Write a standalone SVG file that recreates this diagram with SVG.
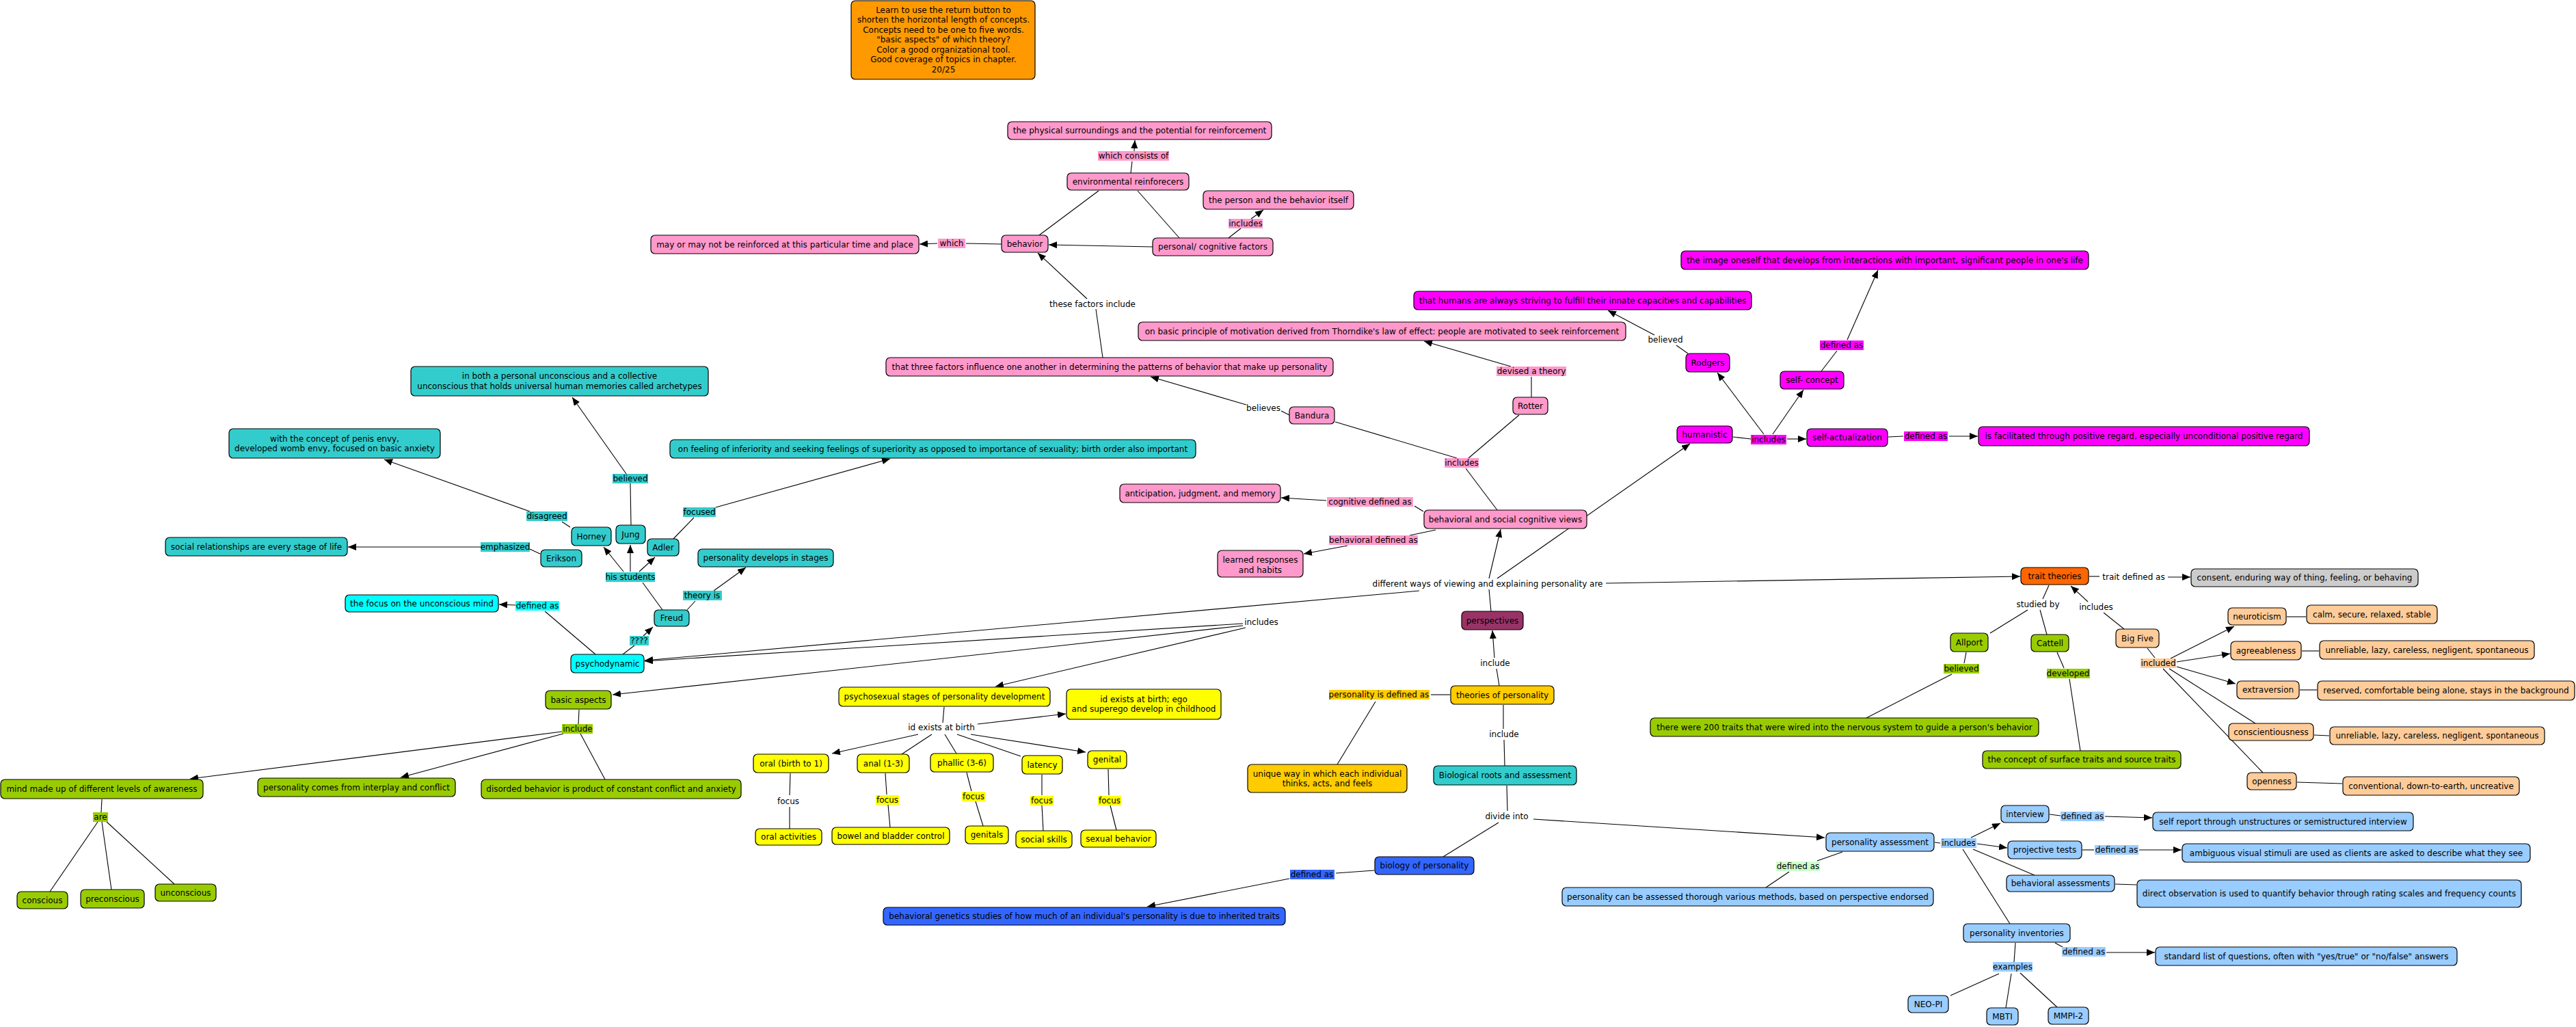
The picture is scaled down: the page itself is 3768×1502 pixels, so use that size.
<svg xmlns="http://www.w3.org/2000/svg" width="3768" height="1502" viewBox="0 0 3768 1502">
<style>
text{font-family:"DejaVu Sans","Liberation Sans",sans-serif;font-size:12px;fill:#000;text-anchor:middle}
.n rect{stroke:#000;stroke-width:1.2;rx:6px;ry:6px}
.lb rect{stroke:none}
#conn line{stroke:#000;stroke-width:1.1}
#conn line.a{marker-end:url(#ah)}
.pk rect{fill:#FF99CC}.mg rect{fill:#FF00FF}.tl rect{fill:#33CCCC}.cy rect{fill:#00FFFF}
.gr rect{fill:#99CC00}.ye rect{fill:#FFFF00}.gd rect{fill:#FFCC00}.og rect{fill:#FF9900}
.tr rect{fill:#FF6600}.gy rect{fill:#CCCCCC}.pc rect{fill:#FFCC99}.lbl rect{fill:#99CCFF}
.bl rect{fill:#3366FF}.pr rect{fill:#993366}.lg rect{fill:#CCFFCC}
</style>
<defs>
<marker id="ah" viewBox="0 0 12 10" refX="12" refY="5" markerWidth="12" markerHeight="10" markerUnits="userSpaceOnUse" orient="auto"><path d="M0,0 L12,5 L0,10 z" fill="#000"/></marker>
</defs>
<rect width="3768" height="1502" fill="#fff"/>
<g id="conn">
<line x1="1654" y1="253" x2="1656" y2="236"/>
<line class="a" x1="1659" y1="221" x2="1660" y2="205"/>
<line x1="1607" y1="279" x2="1520" y2="344"/>
<line x1="1664" y1="279" x2="1725" y2="348"/>
<line class="a" x1="1686" y1="361" x2="1534" y2="358"/>
<line x1="1797" y1="348" x2="1815" y2="334"/>
<line class="a" x1="1830" y1="320" x2="1848" y2="307"/>
<line x1="1465" y1="357" x2="1413" y2="356"/>
<line class="a" x1="1371" y1="356" x2="1345" y2="357"/>
<line x1="1613" y1="523" x2="1603" y2="452"/>
<line class="a" x1="1590" y1="437" x2="1518" y2="370"/>
<line x1="1886" y1="607" x2="1874" y2="601"/>
<line class="a" x1="1823" y1="592" x2="1683" y2="551"/>
<line x1="2240" y1="581" x2="2240" y2="551"/>
<line class="a" x1="2210" y1="536" x2="2083" y2="499"/>
<line x1="1953" y1="617" x2="2131" y2="670"/>
<line x1="2222" y1="607" x2="2148" y2="670"/>
<line x1="2190" y1="746" x2="2144" y2="685"/>
<line x1="2082" y1="748" x2="2069" y2="740"/>
<line class="a" x1="1940" y1="732" x2="1874" y2="728"/>
<line x1="2100" y1="775" x2="2062" y2="783"/>
<line class="a" x1="1971" y1="798" x2="1907" y2="810"/>
<line class="a" x1="2178" y1="846" x2="2195" y2="774"/>
<line class="a" x1="2190" y1="846" x2="2472" y2="649"/>
<line x1="2181" y1="894" x2="2178" y2="862"/>
<line class="a" x1="2349" y1="853" x2="2955" y2="843"/>
<line class="a" x1="2076" y1="864" x2="943" y2="966"/>
<line x1="2193" y1="1003" x2="2189" y2="978"/>
<line class="a" x1="2186" y1="962" x2="2183" y2="922"/>
<line x1="2535" y1="639" x2="2561" y2="642"/>
<line class="a" x1="2614" y1="642" x2="2642" y2="642"/>
<line class="a" x1="2580" y1="635" x2="2512" y2="545"/>
<line class="a" x1="2593" y1="635" x2="2638" y2="570"/>
<line x1="2762" y1="639" x2="2784" y2="638"/>
<line class="a" x1="2851" y1="638" x2="2893" y2="638"/>
<line x1="2469" y1="517" x2="2452" y2="505"/>
<line class="a" x1="2420" y1="490" x2="2352" y2="454"/>
<line x1="2664" y1="543" x2="2687" y2="513"/>
<line class="a" x1="2702" y1="497" x2="2747" y2="395"/>
<line x1="3056" y1="843" x2="3071" y2="843"/>
<line class="a" x1="3171" y1="844" x2="3204" y2="844"/>
<line x1="2997" y1="856" x2="2988" y2="876"/>
<line x1="2966" y1="892" x2="2911" y2="926"/>
<line x1="2984" y1="892" x2="2994" y2="928"/>
<line x1="3107" y1="920" x2="3077" y2="896"/>
<line class="a" x1="3054" y1="880" x2="3029" y2="857"/>
<line x1="2876" y1="954" x2="2873" y2="970"/>
<line x1="2855" y1="986" x2="2730" y2="1050"/>
<line x1="3009" y1="954" x2="3019" y2="977"/>
<line x1="3027" y1="993" x2="3043" y2="1098"/>
<line x1="3141" y1="948" x2="3152" y2="962"/>
<line class="a" x1="3175" y1="963" x2="3268" y2="916"/>
<line class="a" x1="3184" y1="968" x2="3262" y2="956"/>
<line class="a" x1="3184" y1="975" x2="3270" y2="1000"/>
<line x1="3173" y1="978" x2="3299" y2="1058"/>
<line x1="3164" y1="978" x2="3310" y2="1130"/>
<line x1="3345" y1="902" x2="3373" y2="902"/>
<line x1="3367" y1="952" x2="3392" y2="952"/>
<line x1="3364" y1="1009" x2="3389" y2="1009"/>
<line x1="3385" y1="1075" x2="3407" y2="1076"/>
<line x1="3360" y1="1144" x2="3426" y2="1146"/>
<line x1="2121" y1="1016" x2="2093" y2="1016"/>
<line x1="2012" y1="1026" x2="1956" y2="1118"/>
<line x1="2199" y1="1031" x2="2199" y2="1066"/>
<line x1="2200" y1="1082" x2="2201" y2="1120"/>
<line x1="2204" y1="1149" x2="2205" y2="1186"/>
<line class="a" x1="2243" y1="1198" x2="2669" y2="1225"/>
<line x1="2192" y1="1203" x2="2111" y2="1253"/>
<line x1="2010" y1="1273" x2="1954" y2="1277"/>
<line class="a" x1="1886" y1="1285" x2="1678" y2="1326"/>
<line x1="2695" y1="1246" x2="2658" y2="1259"/>
<line x1="2617" y1="1275" x2="2583" y2="1298"/>
<line x1="2830" y1="1232" x2="2838" y2="1233"/>
<line class="a" x1="2883" y1="1225" x2="2926" y2="1204"/>
<line class="a" x1="2892" y1="1234" x2="2936" y2="1240"/>
<line x1="2886" y1="1242" x2="2976" y2="1280"/>
<line x1="2871" y1="1242" x2="2940" y2="1351"/>
<line x1="2998" y1="1191" x2="3014" y2="1193"/>
<line class="a" x1="3079" y1="1194" x2="3148" y2="1196"/>
<line x1="3046" y1="1243" x2="3063" y2="1243"/>
<line class="a" x1="3129" y1="1243" x2="3191" y2="1243"/>
<line x1="3094" y1="1293" x2="3125" y2="1294"/>
<line x1="3006" y1="1379" x2="3017" y2="1385"/>
<line class="a" x1="3081" y1="1393" x2="3152" y2="1393"/>
<line x1="2948" y1="1379" x2="2946" y2="1407"/>
<line x1="2924" y1="1424" x2="2853" y2="1456"/>
<line x1="2942" y1="1424" x2="2934" y2="1474"/>
<line x1="2955" y1="1423" x2="3009" y2="1473"/>
<line class="a" x1="912" y1="836" x2="883" y2="800"/>
<line x1="969" y1="892" x2="940" y2="852"/>
<line class="a" x1="922" y1="836" x2="922" y2="797"/>
<line class="a" x1="935" y1="836" x2="958" y2="815"/>
<line x1="923" y1="768" x2="922" y2="707"/>
<line class="a" x1="916" y1="693" x2="837" y2="581"/>
<line x1="834" y1="771" x2="822" y2="763"/>
<line class="a" x1="775" y1="748" x2="562" y2="672"/>
<line x1="790" y1="810" x2="775" y2="803"/>
<line class="a" x1="703" y1="800" x2="509" y2="800"/>
<line x1="985" y1="788" x2="1015" y2="757"/>
<line class="a" x1="1047" y1="742" x2="1302" y2="671"/>
<line x1="1005" y1="892" x2="1017" y2="879"/>
<line class="a" x1="1044" y1="864" x2="1091" y2="830"/>
<line x1="871" y1="957" x2="797" y2="894"/>
<line class="a" x1="754" y1="885" x2="730" y2="884"/>
<line x1="911" y1="957" x2="928" y2="944"/>
<line class="a" x1="941" y1="930" x2="955" y2="917"/>
<line class="a" x1="1818" y1="912" x2="943" y2="967"/>
<line class="a" x1="1818" y1="915" x2="896" y2="1016"/>
<line class="a" x1="1822" y1="918" x2="1456" y2="1004"/>
<line x1="847" y1="1038" x2="846" y2="1059"/>
<line class="a" x1="822" y1="1070" x2="278" y2="1139"/>
<line class="a" x1="824" y1="1073" x2="586" y2="1137"/>
<line x1="849" y1="1073" x2="885" y2="1140"/>
<line x1="149" y1="1169" x2="148" y2="1188"/>
<line x1="143" y1="1202" x2="73" y2="1304"/>
<line x1="149" y1="1202" x2="163" y2="1301"/>
<line x1="156" y1="1202" x2="255" y2="1293"/>
<line x1="1381" y1="1034" x2="1379" y2="1057"/>
<line class="a" x1="1430" y1="1059" x2="1559" y2="1044"/>
<line class="a" x1="1343" y1="1074" x2="1217" y2="1102"/>
<line x1="1363" y1="1074" x2="1319" y2="1103"/>
<line x1="1382" y1="1074" x2="1399" y2="1102"/>
<line x1="1400" y1="1074" x2="1493" y2="1106"/>
<line class="a" x1="1420" y1="1074" x2="1588" y2="1100"/>
<line x1="1156" y1="1131" x2="1155" y2="1163"/>
<line x1="1155" y1="1180" x2="1155" y2="1212"/>
<line x1="1295" y1="1131" x2="1297" y2="1162"/>
<line x1="1299" y1="1177" x2="1302" y2="1210"/>
<line x1="1414" y1="1130" x2="1421" y2="1157"/>
<line x1="1427" y1="1172" x2="1438" y2="1208"/>
<line x1="1524" y1="1133" x2="1524" y2="1163"/>
<line x1="1524" y1="1178" x2="1526" y2="1215"/>
<line x1="1621" y1="1125" x2="1622" y2="1163"/>
<line x1="1624" y1="1178" x2="1633" y2="1214"/>
</g>
<g id="links">
<g id="l1" class="lb pk"><rect x="1606" y="221" width="104" height="14"/><text x="1658" y="232">which consists of</text></g>
<g id="l2" class="lb pk"><rect x="1797" y="320" width="50" height="14"/><text x="1822" y="331">includes</text></g>
<g id="l3" class="lb pk"><rect x="1372" y="349" width="40" height="14"/><text x="1392" y="360">which</text></g>
<g id="l4"><text x="1598" y="449">these factors include</text></g>
<g id="l5"><text x="2436" y="501">believed</text></g>
<g id="l6" class="lb mg"><rect x="2662" y="498" width="64" height="14"/><text x="2694" y="509">defined as</text></g>
<g id="l7" class="lb pk"><rect x="2189" y="536" width="102" height="14"/><text x="2240" y="547">devised a theory</text></g>
<g id="l8"><text x="1848" y="601">believes</text></g>
<g id="l9" class="lb pk"><rect x="2113" y="670" width="50" height="14"/><text x="2138" y="681">includes</text></g>
<g id="l10" class="lb pk"><rect x="1941" y="727" width="126" height="14"/><text x="2004" y="738">cognitive defined as</text></g>
<g id="l11" class="lb pk"><rect x="1944" y="783" width="130" height="14"/><text x="2009" y="794">behavioral defined as</text></g>
<g id="l12" class="lb mg"><rect x="2561" y="636" width="52" height="14"/><text x="2587" y="647">includes</text></g>
<g id="l13" class="lb mg"><rect x="2785" y="631" width="64" height="14"/><text x="2817" y="642">defined as</text></g>
<g id="l14" class="lb tl"><rect x="896" y="693" width="52" height="14"/><text x="922" y="704">believed</text></g>
<g id="l15" class="lb tl"><rect x="770" y="748" width="60" height="14"/><text x="800" y="759">disagreed</text></g>
<g id="l16" class="lb tl"><rect x="703" y="793" width="72" height="14"/><text x="739" y="804">emphasized</text></g>
<g id="l17" class="lb tl"><rect x="886" y="837" width="72" height="14"/><text x="922" y="848">his students</text></g>
<g id="l18" class="lb tl"><rect x="999" y="742" width="48" height="14"/><text x="1023" y="753">focused</text></g>
<g id="l19" class="lb tl"><rect x="999" y="864" width="57" height="14"/><text x="1027" y="875">theory is</text></g>
<g id="l20" class="lb cy"><rect x="754" y="879" width="64" height="14"/><text x="786" y="890">defined as</text></g>
<g id="l21" class="lb tl"><rect x="921" y="930" width="28" height="14"/><text x="935" y="941">????</text></g>
<g id="l22"><text x="1845" y="914">includes</text></g>
<g id="l23"><text x="2176" y="858">different ways of viewing and explaining personality are</text></g>
<g id="l24"><text x="2187" y="974">include</text></g>
<g id="l25"><text x="3121" y="848">trait defined as</text></g>
<g id="l26"><text x="2981" y="888">studied by</text></g>
<g id="l27"><text x="3066" y="892">includes</text></g>
<g id="l28" class="lb gr"><rect x="2843" y="971" width="52" height="14"/><text x="2869" y="982">believed</text></g>
<g id="l29" class="lb gr"><rect x="2994" y="978" width="63" height="14"/><text x="3025" y="989">developed</text></g>
<g id="l30" class="lb pc"><rect x="3131" y="963" width="52" height="14"/><text x="3157" y="974">included</text></g>
<g id="l31" class="lb gd"><rect x="1944" y="1009" width="147" height="14"/><text x="2017" y="1020">personality is defined as</text></g>
<g id="l32"><text x="2200" y="1078">include</text></g>
<g id="l33"><text x="2204" y="1198">divide into</text></g>
<g id="l34" class="lb bl"><rect x="1887" y="1272" width="65" height="14"/><text x="1919" y="1283">defined as</text></g>
<g id="l35" class="lb lg"><rect x="2598" y="1260" width="64" height="14"/><text x="2630" y="1271">defined as</text></g>
<g id="l36" class="lb lbl"><rect x="2839" y="1226" width="52" height="14"/><text x="2865" y="1237">includes</text></g>
<g id="l37" class="lb lbl"><rect x="3014" y="1187" width="64" height="14"/><text x="3046" y="1198">defined as</text></g>
<g id="l38" class="lb lbl"><rect x="3064" y="1236" width="64" height="14"/><text x="3096" y="1247">defined as</text></g>
<g id="l39" class="lb lbl"><rect x="3016" y="1385" width="64" height="14"/><text x="3048" y="1396">defined as</text></g>
<g id="l40" class="lb lbl"><rect x="2915" y="1407" width="58" height="14"/><text x="2944" y="1418">examples</text></g>
<g id="l41"><text x="1377" y="1068">id exists at birth</text></g>
<g id="l42"><text x="1153" y="1176">focus</text></g>
<g id="l43" class="lb ye"><rect x="1281" y="1163" width="34" height="14"/><text x="1298" y="1174">focus</text></g>
<g id="l44" class="lb ye"><rect x="1407" y="1158" width="34" height="14"/><text x="1424" y="1169">focus</text></g>
<g id="l45" class="lb ye"><rect x="1507" y="1164" width="34" height="14"/><text x="1524" y="1175">focus</text></g>
<g id="l46" class="lb ye"><rect x="1606" y="1164" width="34" height="14"/><text x="1623" y="1175">focus</text></g>
<g id="l47" class="lb gr"><rect x="822" y="1059" width="45" height="14"/><text x="845" y="1070">include</text></g>
<g id="l48" class="lb gr"><rect x="136" y="1188" width="22" height="14"/><text x="147" y="1199">are</text></g>
</g>
<g id="nodes">
<g id="n-note" class="n og"><rect x="1245" y="1" width="269" height="115"/><text x="1380" y="18.5">Learn to use the return button to</text><text x="1380" y="33">shorten the horizontal length of concepts.</text><text x="1380" y="47.5">Concepts need to be one to five words.</text><text x="1380" y="62">&quot;basic aspects&quot; of which theory?</text><text x="1380" y="76.5">Color a good organizational tool.</text><text x="1380" y="91">Good coverage of topics in chapter.</text><text x="1380" y="105.5">20/25</text></g>
<g id="n-phys" class="n pk"><rect x="1474" y="178" width="386" height="26"/><text x="1667" y="195">the physical surroundings and the potential for reinforcement</text></g>
<g id="n-envr" class="n pk"><rect x="1561" y="253" width="178" height="25"/><text x="1650" y="269.5">environmental reinforecers</text></g>
<g id="n-person" class="n pk"><rect x="1760" y="279" width="220" height="27"/><text x="1870" y="296.5">the person and the behavior itself</text></g>
<g id="n-behavior" class="n pk"><rect x="1465" y="344" width="68" height="25"/><text x="1499" y="360.5">behavior</text></g>
<g id="n-maynot" class="n pk"><rect x="952" y="344" width="392" height="27"/><text x="1148" y="361.5">may or may not be reinforced at this particular time and place</text></g>
<g id="n-perscog" class="n pk"><rect x="1686" y="348" width="176" height="26"/><text x="1774" y="365">personal/ cognitive factors</text></g>
<g id="n-image" class="n mg"><rect x="2459" y="367" width="596" height="27"/><text x="2757" y="384.5">the image oneself that develops from interactions with important, significant people in one's life</text></g>
<g id="n-humans" class="n mg"><rect x="2068" y="426" width="494" height="27"/><text x="2315" y="443.5">that humans are always striving to fulfill their innate capacities and capabilities</text></g>
<g id="n-thorndike" class="n pk"><rect x="1665" y="471" width="713" height="27"/><text x="2021.5" y="488.5">on basic principle of motivation derived from Thorndike's law of effect: people are motivated to seek reinforcement</text></g>
<g id="n-three" class="n pk"><rect x="1296" y="523" width="654" height="27"/><text x="1623" y="540.5">that three factors influence one another in determining the patterns of behavior that make up personality</text></g>
<g id="n-rodgers" class="n mg"><rect x="2466" y="517" width="64" height="27"/><text x="2498" y="534.5">Rodgers</text></g>
<g id="n-selfconcept" class="n mg"><rect x="2604" y="543" width="93" height="26"/><text x="2650.5" y="560">self- concept</text></g>
<g id="n-rotter" class="n pk"><rect x="2213" y="581" width="51" height="25"/><text x="2238.5" y="597.5">Rotter</text></g>
<g id="n-bandura" class="n pk"><rect x="1886" y="595" width="66" height="25"/><text x="1919" y="611.5">Bandura</text></g>
<g id="n-humanistic" class="n mg"><rect x="2453" y="623" width="81" height="25"/><text x="2493.5" y="639.5">humanistic</text></g>
<g id="n-selfact" class="n mg"><rect x="2643" y="627" width="118" height="26"/><text x="2702" y="644">self-actualization</text></g>
<g id="n-facilitated" class="n mg"><rect x="2894" y="624" width="484" height="28"/><text x="3136" y="642">is facilitated through positive regard, especially unconditional positive regard</text></g>
<g id="n-archetypes" class="n tl"><rect x="601" y="536" width="435" height="43"/><text x="818.5" y="554">in both a personal unconscious and a collective</text><text x="818.5" y="568.5">unconscious that holds universal human memories called archetypes</text></g>
<g id="n-penis" class="n tl"><rect x="335" y="627" width="309" height="43"/><text x="489.5" y="645.5">with the concept of penis envy,</text><text x="489.5" y="660">developed womb envy, focused on basic anxiety</text></g>
<g id="n-inferiority" class="n tl"><rect x="980" y="643" width="769" height="27"/><text x="1364.5" y="660.5">on feeling of inferiority and seeking feelings of superiority as opposed to importance of sexuality; birth order also important</text></g>
<g id="n-anticipation" class="n pk"><rect x="1638" y="708" width="235" height="27"/><text x="1755.5" y="725.5">anticipation, judgment, and memory</text></g>
<g id="n-bsc" class="n pk"><rect x="2083" y="746" width="238" height="27"/><text x="2202" y="763.5">behavioral and social cognitive views</text></g>
<g id="n-horney" class="n tl"><rect x="836" y="771" width="58" height="27"/><text x="865" y="788.5">Horney</text></g>
<g id="n-jung" class="n tl"><rect x="901" y="768" width="43" height="27"/><text x="922.5" y="785.5">Jung</text></g>
<g id="n-social" class="n tl"><rect x="242" y="786" width="266" height="27"/><text x="375" y="803.5">social relationships are every stage of life</text></g>
<g id="n-adler" class="n tl"><rect x="947" y="788" width="46" height="25"/><text x="970" y="804.5">Adler</text></g>
<g id="n-erikson" class="n tl"><rect x="791" y="804" width="60" height="25"/><text x="821" y="820.5">Erikson</text></g>
<g id="n-stages" class="n tl"><rect x="1021" y="803" width="198" height="26"/><text x="1120" y="820">personality develops in stages</text></g>
<g id="n-learned" class="n pk"><rect x="1781" y="805" width="125" height="39"/><text x="1843.5" y="822.5">learned responses</text><text x="1843.5" y="837.5">and habits</text></g>
<g id="n-trait" class="n tr"><rect x="2956" y="830" width="99" height="25"/><text x="3005.5" y="846.5">trait theories</text></g>
<g id="n-consent" class="n gy"><rect x="3205" y="832" width="332" height="26"/><text x="3371" y="849">consent, enduring way of thing, feeling, or behaving</text></g>
<g id="n-focusmind" class="n cy"><rect x="505" y="870" width="224" height="25"/><text x="617" y="886.5">the focus on the unconscious mind</text></g>
<g id="n-freud" class="n tl"><rect x="957" y="892" width="51" height="24"/><text x="982.5" y="908">Freud</text></g>
<g id="n-perspectives" class="n pr"><rect x="2138" y="894" width="90" height="27"/><text x="2183" y="911.5">perspectives</text></g>
<g id="n-neuroticism" class="n pc"><rect x="3259" y="889" width="85" height="25"/><text x="3301.5" y="905.5">neuroticism</text></g>
<g id="n-calm" class="n pc"><rect x="3374" y="885" width="191" height="27"/><text x="3469.5" y="902.5">calm, secure, relaxed, stable</text></g>
<g id="n-allport" class="n gr"><rect x="2853" y="926" width="55" height="27"/><text x="2880.5" y="943.5">Allport</text></g>
<g id="n-cattell" class="n gr"><rect x="2971" y="928" width="55" height="25"/><text x="2998.5" y="944.5">Cattell</text></g>
<g id="n-bigfive" class="n pc"><rect x="3095" y="920" width="63" height="27"/><text x="3126.5" y="937.5">Big Five</text></g>
<g id="n-agree" class="n pc"><rect x="3263" y="938" width="103" height="27"/><text x="3314.5" y="955.5">agreeableness</text></g>
<g id="n-unrel1" class="n pc"><rect x="3393" y="937" width="314" height="27"/><text x="3550" y="954.5">unreliable, lazy, careless, negligent, spontaneous</text></g>
<g id="n-psychodynamic" class="n cy"><rect x="835" y="957" width="107" height="27"/><text x="888.5" y="974.5">psychodynamic</text></g>
<g id="n-extraversion" class="n pc"><rect x="3272" y="996" width="91" height="26"/><text x="3317.5" y="1013">extraversion</text></g>
<g id="n-reserved" class="n pc"><rect x="3390" y="996" width="376" height="28"/><text x="3578" y="1014">reserved, comfortable being alone, stays in the background</text></g>
<g id="n-theories" class="n gd"><rect x="2122" y="1003" width="151" height="27"/><text x="2197.5" y="1020.5">theories of personality</text></g>
<g id="n-psychosexual" class="n ye"><rect x="1227" y="1005" width="309" height="28"/><text x="1381.5" y="1023">psychosexual stages of personality development</text></g>
<g id="n-idnode" class="n ye"><rect x="1560" y="1008" width="226" height="44"/><text x="1673" y="1026.5">id exists at birth; ego</text><text x="1673" y="1041">and superego develop in childhood</text></g>
<g id="n-basic" class="n gr"><rect x="798" y="1010" width="96" height="27"/><text x="846" y="1027.5">basic aspects</text></g>
<g id="n-traits200" class="n gr"><rect x="2414" y="1050" width="568" height="27"/><text x="2698" y="1067.5">there were 200 traits that were wired into the nervous system to guide a person's behavior</text></g>
<g id="n-conscientiousness" class="n pc"><rect x="3260" y="1058" width="124" height="25"/><text x="3322" y="1074.5">conscientiousness</text></g>
<g id="n-unrel2" class="n pc"><rect x="3408" y="1063" width="314" height="26"/><text x="3565" y="1080">unreliable, lazy, careless, negligent, spontaneous</text></g>
<g id="n-surface" class="n gr"><rect x="2900" y="1098" width="290" height="26"/><text x="3045" y="1115">the concept of surface traits and source traits</text></g>
<g id="n-oral" class="n ye"><rect x="1102" y="1103" width="110" height="27"/><text x="1157" y="1120.5">oral (birth to 1)</text></g>
<g id="n-anal" class="n ye"><rect x="1254" y="1103" width="76" height="27"/><text x="1292" y="1120.5">anal (1-3)</text></g>
<g id="n-phallic" class="n ye"><rect x="1361" y="1102" width="92" height="27"/><text x="1407" y="1119.5">phallic (3-6)</text></g>
<g id="n-latency" class="n ye"><rect x="1495" y="1105" width="59" height="27"/><text x="1524.5" y="1122.5">latency</text></g>
<g id="n-genital" class="n ye"><rect x="1591" y="1098" width="57" height="26"/><text x="1619.5" y="1115">genital</text></g>
<g id="n-unique" class="n gd"><rect x="1825" y="1118" width="233" height="41"/><text x="1941.5" y="1135.5">unique way in which each individual</text><text x="1941.5" y="1150">thinks, acts, and feels</text></g>
<g id="n-bio" class="n tl"><rect x="2097" y="1120" width="209" height="28"/><text x="2201.5" y="1138">Biological roots and assessment</text></g>
<g id="n-openness" class="n pc"><rect x="3287" y="1130" width="72" height="25"/><text x="3323" y="1146.5">openness</text></g>
<g id="n-conventional" class="n pc"><rect x="3427" y="1136" width="258" height="27"/><text x="3556" y="1153.5">conventional, down-to-earth, uncreative</text></g>
<g id="n-mind" class="n gr"><rect x="1" y="1140" width="296" height="28"/><text x="149" y="1158">mind made up of different levels of awareness</text></g>
<g id="n-interplay" class="n gr"><rect x="377" y="1138" width="289" height="27"/><text x="521.5" y="1155.5">personality comes from interplay and conflict</text></g>
<g id="n-disorded" class="n gr"><rect x="704" y="1140" width="380" height="28"/><text x="894" y="1158">disorded behavior is product of constant conflict and anxiety</text></g>
<g id="n-interview" class="n lbl"><rect x="2927" y="1178" width="70" height="25"/><text x="2962" y="1194.5">interview</text></g>
<g id="n-selfreport" class="n lbl"><rect x="3149" y="1188" width="381" height="27"/><text x="3339.5" y="1205.5">self report through unstructures or semistructured interview</text></g>
<g id="n-oralact" class="n ye"><rect x="1105" y="1212" width="97" height="24"/><text x="1153.5" y="1228">oral activities</text></g>
<g id="n-bowel" class="n ye"><rect x="1217" y="1210" width="172" height="25"/><text x="1303" y="1226.5">bowel and bladder control</text></g>
<g id="n-genitals" class="n ye"><rect x="1412" y="1208" width="63" height="26"/><text x="1443.5" y="1225">genitals</text></g>
<g id="n-socialskills" class="n ye"><rect x="1486" y="1215" width="82" height="25"/><text x="1527" y="1231.5">social skills</text></g>
<g id="n-sexual" class="n ye"><rect x="1581" y="1214" width="110" height="25"/><text x="1636" y="1230.5">sexual behavior</text></g>
<g id="n-passess" class="n lbl"><rect x="2671" y="1218" width="158" height="27"/><text x="2750" y="1235.5">personality assessment</text></g>
<g id="n-projective" class="n lbl"><rect x="2937" y="1230" width="108" height="26"/><text x="2991" y="1247">projective tests</text></g>
<g id="n-ambiguous" class="n lbl"><rect x="3192" y="1234" width="509" height="27"/><text x="3446.5" y="1251.5">ambiguous visual stimuli are used as clients are asked to describe what they see</text></g>
<g id="n-bioper" class="n bl"><rect x="2011" y="1253" width="145" height="26"/><text x="2083.5" y="1270">biology of personality</text></g>
<g id="n-behassess" class="n lbl"><rect x="2935" y="1280" width="158" height="24"/><text x="3014" y="1296">behavioral assessments</text></g>
<g id="n-direct" class="n lbl"><rect x="3126" y="1287" width="562" height="40"/><text x="3407" y="1310.5">direct observation is used to quantify behavior through rating scales and frequency counts</text></g>
<g id="n-canbe" class="n lbl"><rect x="2285" y="1298" width="543" height="27"/><text x="2556.5" y="1315.5">personality can be assessed thorough various methods, based on perspective endorsed</text></g>
<g id="n-conscious" class="n gr"><rect x="25" y="1304" width="74" height="25"/><text x="62" y="1320.5">conscious</text></g>
<g id="n-preconscious" class="n gr"><rect x="118" y="1301" width="93" height="27"/><text x="164.5" y="1318.5">preconscious</text></g>
<g id="n-unconscious" class="n gr"><rect x="227" y="1293" width="89" height="25"/><text x="271.5" y="1309.5">unconscious</text></g>
<g id="n-behgen" class="n bl"><rect x="1292" y="1327" width="588" height="26"/><text x="1586" y="1344">behavioral genetics studies of how much of an individual's personality is due to inherited traits</text></g>
<g id="n-inventories" class="n lbl"><rect x="2872" y="1351" width="156" height="27"/><text x="2950" y="1368.5">personality inventories</text></g>
<g id="n-standard" class="n lbl"><rect x="3153" y="1385" width="441" height="27"/><text x="3373.5" y="1402.5">standard list of questions, often with &quot;yes/true&quot; or &quot;no/false&quot; answers</text></g>
<g id="n-neopi" class="n lbl"><rect x="2791" y="1456" width="59" height="25"/><text x="2820.5" y="1472.5">NEO-PI</text></g>
<g id="n-mbti" class="n lbl"><rect x="2906" y="1474" width="46" height="25"/><text x="2929" y="1490.5">MBTI</text></g>
<g id="n-mmpi" class="n lbl"><rect x="2996" y="1473" width="59" height="25"/><text x="3025.5" y="1489.5">MMPI-2</text></g>
</g>
</svg>
